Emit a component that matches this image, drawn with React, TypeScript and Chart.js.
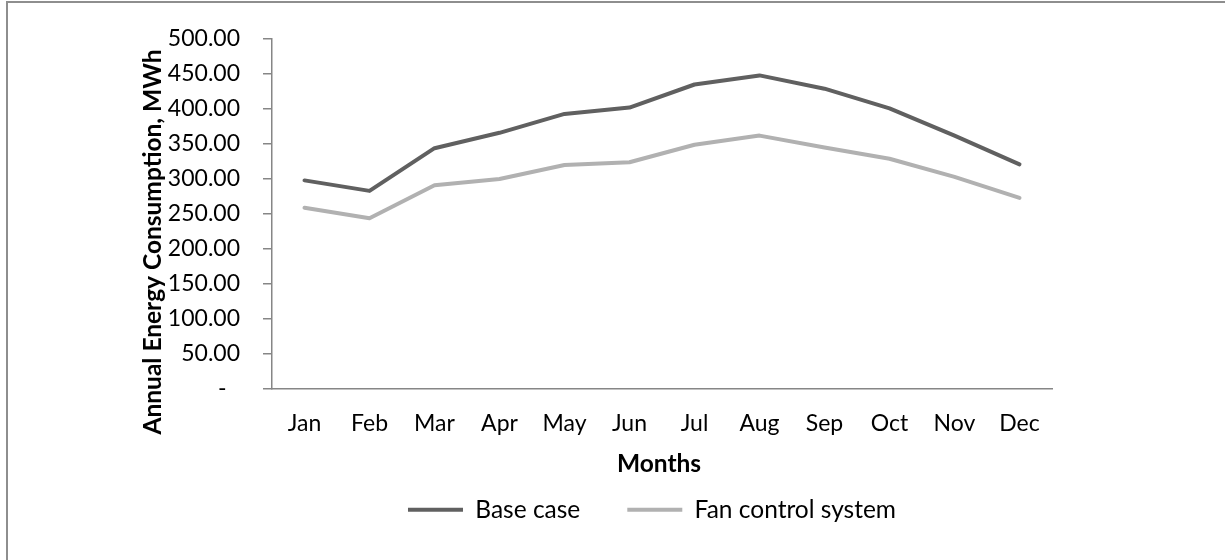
import { useEffect, useRef } from 'react';
import { Chart, registerables } from 'chart.js';

Chart.register(...registerables);

// Monthly energy use (MWh) for the two operating scenarios
const months = ['Jan', 'Feb', 'Mar', 'Apr', 'May', 'Jun', 'Jul', 'Aug', 'Sep', 'Oct', 'Nov', 'Dec'];
const baseCase = [298, 283, 344, 366, 393, 402, 435, 448, 429, 401, 362, 321];
const fanControl = [259, 244, 291, 300, 320, 324, 349, 362, 345, 329, 303, 273];
const seriesNames = ['Base case', 'Fan control system'];
const yMin = 0;
const yMax = 500;
const yStep = 50;
const xTitle = 'Months';
const yTitle = 'Annual Energy Consumption, MWh';

const FONT = 'Lato';
const AXIS_GREY = '#868686';

// Axis titles are placed by hand, and the legend row is nudged a little left
const axisTitles = {
  id: 'axisTitles',
  beforeDraw(chart: any) {
    const lg = chart.legend;
    if (lg) {
      lg.left -= 10;
      lg.right -= 10;
    }
  },
  afterDraw(chart: any) {
    const { ctx, chartArea } = chart;
    ctx.save();
    ctx.fillStyle = '#000';
    ctx.textAlign = 'center';
    ctx.textBaseline = 'alphabetic';
    ctx.font = `bold 24.5px ${FONT}`;
    ctx.fillText(xTitle, (chartArea.left + chartArea.right) / 2 - 3, 472);
    ctx.translate(161, 242);
    ctx.rotate(-Math.PI / 2);
    ctx.fillText(yTitle, 0, 0);
    ctx.restore();
  },
};

export default function App() {
  const canvasRef = useRef<HTMLCanvasElement | null>(null);

  useEffect(() => {
    const canvas = canvasRef.current;
    if (!canvas) return;
    const chart = new Chart(canvas, {
      type: 'line',
      data: {
        labels: months,
        datasets: [
          {
            label: seriesNames[0],
            data: baseCase,
            borderColor: '#606060',
            backgroundColor: '#606060',
            borderWidth: 4,
            borderCapStyle: 'round',
            borderJoinStyle: 'round',
            pointRadius: 0,
            tension: 0,
          },
          {
            label: seriesNames[1],
            data: fanControl,
            borderColor: '#b1b1b1',
            backgroundColor: '#b1b1b1',
            borderWidth: 4,
            borderCapStyle: 'round',
            borderJoinStyle: 'round',
            pointRadius: 0,
            tension: 0,
          },
        ],
      },
      options: {
        responsive: false,
        animation: false,
        devicePixelRatio: 1,
        layout: { padding: { left: 120, right: 173, top: 39, bottom: 28 } },
        plugins: {
          tooltip: { enabled: false },
          legend: {
            position: 'bottom',
            fullSize: false,
            labels: {
              usePointStyle: true,
              pointStyle: 'line',
              pointStyleWidth: 55,
              padding: 47,
              color: '#000',
              font: { family: FONT, size: 24.5 },
            },
          },
        },
        scales: {
          x: {
            offset: true,
            grid: { display: false, drawTicks: false, offset: true },
            border: { display: true, color: AXIS_GREY, width: 1.5 },
            ticks: {
              color: '#000',
              padding: 21,
              maxRotation: 0,
              autoSkip: false,
              font: { family: FONT, size: 23 },
            },
            afterFit: (scale: any) => {
              scale.height = 61.5;
            },
          },
          y: {
            min: yMin,
            max: yMax,
            grid: {
              drawOnChartArea: false,
              drawTicks: true,
              tickLength: 9,
              color: AXIS_GREY,
              lineWidth: 1.5,
            },
            border: { display: true, color: AXIS_GREY, width: 1.5 },
            ticks: {
              stepSize: yStep,
              color: '#000',
              padding: 23,
              font: { family: FONT, size: 23 },
              callback: (v: any) => (Number(v) === 0 ? '-\u2007' : Number(v).toFixed(2)),
            },
            afterFit: (scale: any) => {
              scale.width = 152;
            },
          },
        },
      },
      plugins: [axisTitles],
    } as any);
    return () => chart.destroy();
  }, []);

  return (
    <div style={{ position: 'absolute', left: 0, top: 0, width: 1225, height: 560, overflow: 'hidden', background: '#fff' }}>
      <canvas ref={canvasRef} width={1225} height={560} style={{ display: 'block' }} />
      <div
        style={{
          position: 'absolute',
          left: 6,
          top: 1,
          width: 1300,
          height: 700,
          borderLeft: '2px solid #8e8e8e',
          borderTop: '2px solid #8e8e8e',
          pointerEvents: 'none',
        }}
      />
    </div>
  );
}
